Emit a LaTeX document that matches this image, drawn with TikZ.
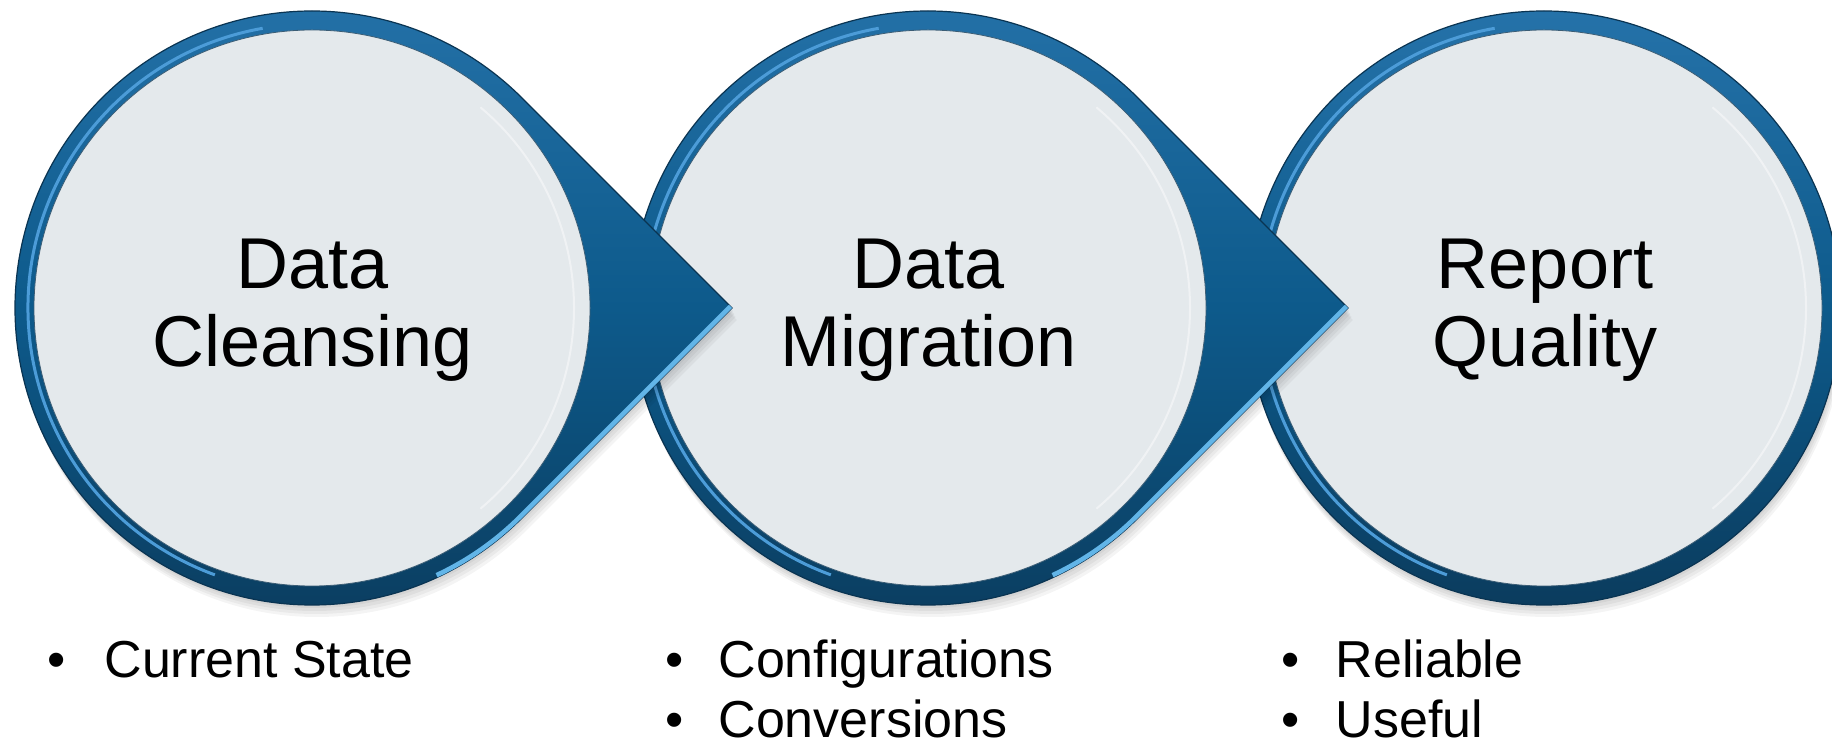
\documentclass[tikz,border=0pt]{standalone}
\usepackage{fontspec}
\setmainfont{Liberation Sans}
\usetikzlibrary{calc}
\definecolor{rimtop}{HTML}{2572A9}
\definecolor{rimmid}{HTML}{0D5A8B}
\definecolor{rimbot}{HTML}{0B3C5E}
\definecolor{rimline}{HTML}{0A3452}
\definecolor{innerc}{HTML}{E4E9EC}
\definecolor{hilite}{HTML}{62B5E8}
\definecolor{rimhi}{HTML}{4C9CD8}
\begin{document}
\begin{tikzpicture}[x=1pt,y=1pt,
  ring/.style={circle, minimum size=594pt, inner sep=0pt, outer sep=0pt},
  tear/.style={insert path={(#1.45) -- (t#1) -- (#1.-45) arc[start angle=-45, end angle=-315, radius=297] -- cycle}},
  body/.style={top color=rimtop, bottom color=rimbot, middle color=rimmid, draw=rimline, line width=1.2pt},
  disk/.style={fill=innerc, draw=rimline!80, line width=0.8pt},
  rimlight/.style={draw=rimhi, line width=3pt},
  edgelight/.style={draw=hilite, line width=9pt},
  ringlight/.style={draw=white, opacity=0.45, line width=2pt},
  shade/.style={fill=black, opacity=0.045},
  title/.style={font=\fontsize{72}{78}\selectfont, align=center},
  item/.style={font=\fontsize{52}{62}\selectfont, anchor=base west, text depth=0pt, inner ysep=0pt},
  dot/.style={font=\fontsize{52}{62}\selectfont, anchor=base, text depth=0pt, inner ysep=0pt},
]
\useasboundingbox (0,0) rectangle (1832,745);
\fill[white] (0,0) rectangle (1832,745);

\node[ring] (c1) at (312,437) {};
\node[ring] (c2) at (928,437) {};
\node[ring] (c3) at (1544,437) {};
\coordinate (tc1) at (732,437);
\coordinate (tc2) at (1348,437);

% ---- circle 3 ----
\foreach \k in {3,6,9,12}
  \fill[shade] ($(c3.center)+(0.3*\k,-\k)$) circle[radius=297];
\path[body] (c3.center) circle[radius=297];
\draw[rimlight] ($(c3.center)+(100:284)$) arc[start angle=100, end angle=250, radius=284];
\path[disk] (c3.center) circle[radius=278];
\draw[ringlight] ($(c3.center)+(-50:262)$) arc[start angle=-50, end angle=50, radius=262];

% ---- circle 2 with arrow ----
\foreach \k in {3,6,9,12}{
  \begin{scope}[transform canvas={xshift=0.4*\k pt, yshift=-\k pt}]
    \path[shade, tear=c2];
  \end{scope}}
\path[body, tear=c2];
\begin{scope}
  \clip[tear=c2];
  \draw[edgelight] (tc2) -- (c2.-45) arc[start angle=-45, end angle=-65, radius=297];
\end{scope}
\draw[rimlight] ($(c2.center)+(100:284)$) arc[start angle=100, end angle=250, radius=284];
\path[disk] (c2.center) circle[radius=278];
\draw[ringlight] ($(c2.center)+(-50:262)$) arc[start angle=-50, end angle=50, radius=262];

% ---- circle 1 with arrow ----
\foreach \k in {3,6,9,12}{
  \begin{scope}[transform canvas={xshift=0.4*\k pt, yshift=-\k pt}]
    \path[shade, tear=c1];
  \end{scope}}
\path[body, tear=c1];
\begin{scope}
  \clip[tear=c1];
  \draw[edgelight] (tc1) -- (c1.-45) arc[start angle=-45, end angle=-65, radius=297];
\end{scope}
\draw[rimlight] ($(c1.center)+(100:284)$) arc[start angle=100, end angle=250, radius=284];
\path[disk] (c1.center) circle[radius=278];
\draw[ringlight] ($(c1.center)+(-50:262)$) arc[start angle=-50, end angle=50, radius=262];

% ---- titles ----
\node[title] (l1) at (313,435) {Data\\Cleansing};
\node[title] (l2) at (929,435) {Data\\Migration};
\node[title] (l3) at (1545,435) {Report\\Quality};

% ---- bullet lists ----
\node[dot] (b1) at (57,68) {\textbullet};
\node[item] (i1) at (101,68) {Current State};
\node[dot] (b2) at (675,68) {\textbullet};
\node[item] (i2) at (715,68) {Configurations};
\node[dot] (b3) at (675,8) {\textbullet};
\node[item] (i3) at (715,8) {Conversions};
\node[dot] (b4) at (1291,68) {\textbullet};
\node[item] (i4) at (1332,68) {Reliable};
\node[dot] (b5) at (1291,8) {\textbullet};
\node[item] (i5) at (1332,8) {Useful};
\end{tikzpicture}
\end{document}
